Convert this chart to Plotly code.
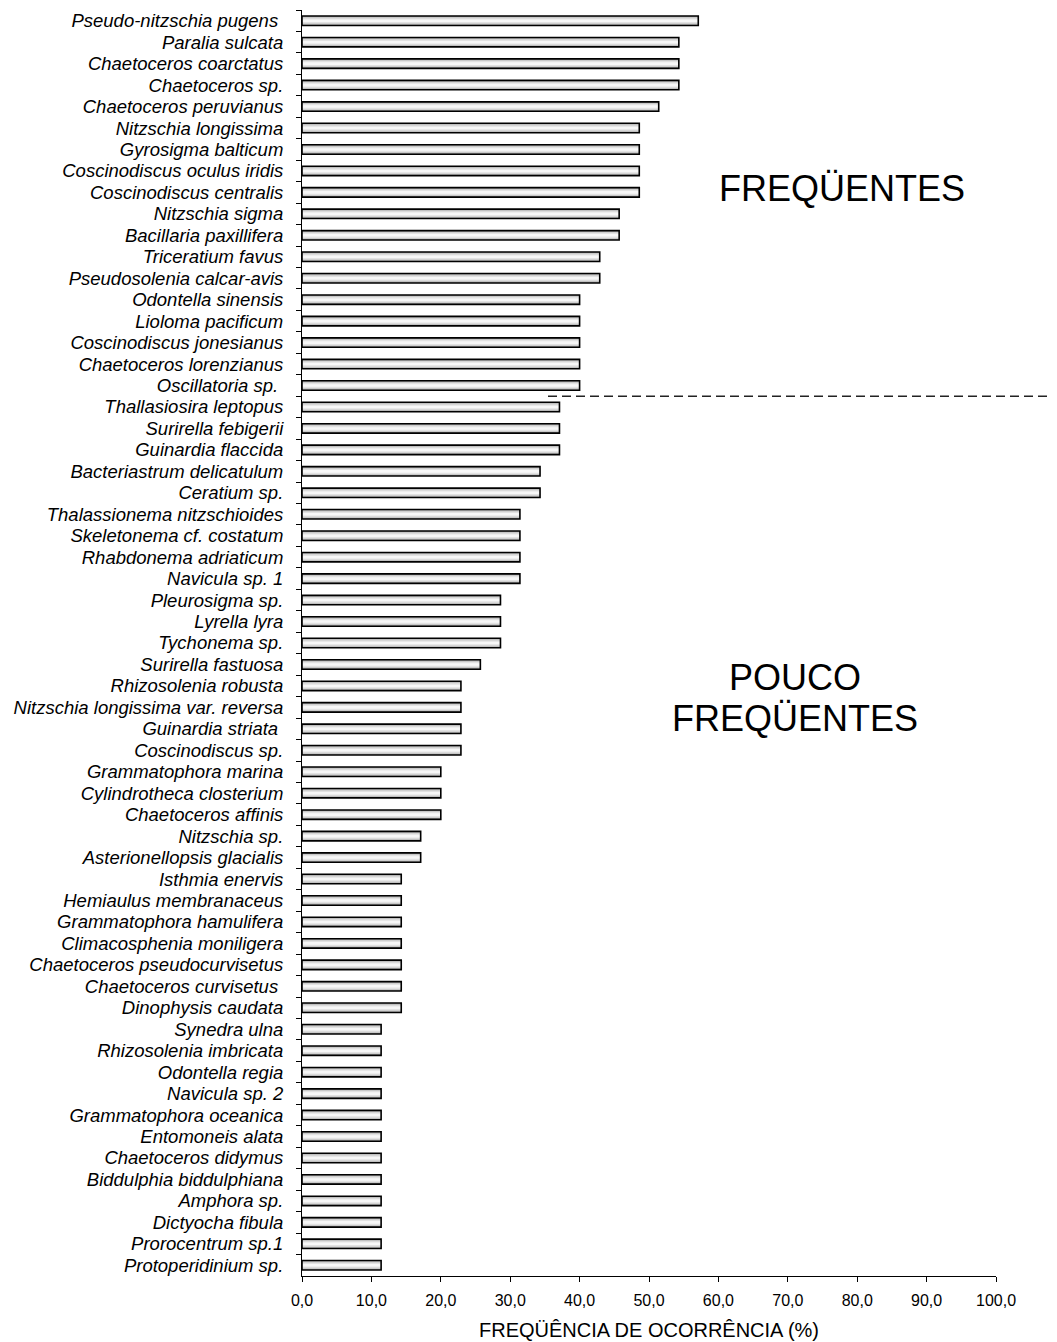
import plotly.graph_objects as go

species = [
    "Pseudo-nitzschia pugens\u00a0", "Paralia sulcata", "Chaetoceros coarctatus", "Chaetoceros sp.",
    "Chaetoceros peruvianus", "Nitzschia longissima", "Gyrosigma balticum", "Coscinodiscus oculus iridis",
    "Coscinodiscus centralis", "Nitzschia sigma", "Bacillaria paxillifera", "Triceratium favus",
    "Pseudosolenia calcar-avis", "Odontella sinensis", "Lioloma pacificum", "Coscinodiscus jonesianus",
    "Chaetoceros lorenzianus", "Oscillatoria sp.\u00a0", "Thallasiosira leptopus", "Surirella febigerii",
    "Guinardia flaccida", "Bacteriastrum delicatulum", "Ceratium sp.", "Thalassionema nitzschioides",
    "Skeletonema cf. costatum", "Rhabdonema adriaticum", "Navicula sp. 1", "Pleurosigma sp.",
    "Lyrella lyra", "Tychonema sp.", "Surirella fastuosa", "Rhizosolenia robusta",
    "Nitzschia longissima var. reversa", "Guinardia striata\u00a0", "Coscinodiscus sp.", "Grammatophora marina",
    "Cylindrotheca closterium", "Chaetoceros affinis", "Nitzschia sp.", "Asterionellopsis glacialis",
    "Isthmia enervis", "Hemiaulus membranaceus", "Grammatophora hamulifera", "Climacosphenia moniligera",
    "Chaetoceros pseudocurvisetus", "Chaetoceros curvisetus\u00a0", "Dinophysis caudata", "Synedra ulna",
    "Rhizosolenia imbricata", "Odontella regia", "Navicula sp. 2", "Grammatophora oceanica",
    "Entomoneis alata", "Chaetoceros didymus", "Biddulphia biddulphiana", "Amphora sp.",
    "Dictyocha fibula", "Prorocentrum sp.1", "Protoperidinium sp.",
]

frequency = [
    57.1, 54.3, 54.3, 54.3, 51.4, 48.6, 48.6, 48.6, 48.6, 45.7, 45.7, 42.9, 42.9,
    40.0, 40.0, 40.0, 40.0, 40.0, 37.1, 37.1, 37.1, 34.3, 34.3, 31.4, 31.4, 31.4, 31.4,
    28.6, 28.6, 28.6, 25.7, 22.9, 22.9, 22.9, 22.9, 20.0, 20.0, 20.0, 17.1, 17.1,
    14.3, 14.3, 14.3, 14.3, 14.3, 14.3, 14.3, 11.4, 11.4, 11.4, 11.4, 11.4, 11.4,
    11.4, 11.4, 11.4, 11.4, 11.4, 11.4,
]

x_ticks = [0, 10, 20, 30, 40, 50, 60, 70, 80, 90, 100]

FONT = "Liberation Sans, Arial, sans-serif"

fig = go.Figure()

# gradient-like fill using stacked overlay layers
layers = [(0.44, "#a9a9a9"), (0.34, "#c8c8c8"), (0.24, "#e2e2e2"), (0.12, "#f7f7f7")]
for w, c in layers:
    fig.add_trace(go.Bar(
        x=frequency, y=species, orientation="h", width=w,
        marker=dict(color=c, line=dict(width=0)), showlegend=False, hoverinfo="skip",
    ))
# outline
fig.add_trace(go.Bar(
    x=frequency, y=species, orientation="h", width=0.44,
    marker=dict(color="rgba(0,0,0,0)", line=dict(color="black", width=1.6)),
    showlegend=False,
))

fig.update_layout(
    width=1049, height=1334,
    margin=dict(l=294, r=61, t=2, b=66, autoexpand=False),
    barmode="overlay",
    plot_bgcolor="white", paper_bgcolor="white",
    separators=",.",
    font=dict(family=FONT, color="black"),
    xaxis=dict(
        range=[0, 100], tickvals=x_ticks, tickformat=".1f",
        showline=True, linecolor="black", linewidth=1,
        ticks="outside", ticklen=5, tickcolor="black",
        showgrid=False, zeroline=False,
        tickfont=dict(size=16, family=FONT),
        ticklabelstandoff=5,
        title=dict(text="FREQÜÊNCIA DE OCORRÊNCIA (%)", font=dict(size=20, family=FONT), standoff=14),
    ),
    yaxis=dict(
        categoryorder="array", categoryarray=species, autorange="reversed",
        tickmode="linear", tick0=0, dtick=1,
        showline=True, linecolor="black", linewidth=1,
        ticks="outside", ticklen=5, tickcolor="black", tickson="boundaries",
        showgrid=False, zeroline=False,
        tickfont=dict(size=18.5, family=FONT, style="italic"),
        ticklabelstandoff=14,
    ),
    shapes=[dict(
        type="line", xref="paper", yref="y",
        x0=(548 - 302) / 694, x1=1.09, y0=17.5, y1=17.5,
        line=dict(color="#222", width=1.5, dash="9px,5px"),
    )],
    annotations=[
        dict(text="FREQÜENTES", xref="paper", yref="paper", x=0.778, y=0.859,
             xanchor="center", yanchor="middle",
             showarrow=False, font=dict(size=36, family=FONT)),
        dict(text="POUCO", xref="paper", yref="paper", x=0.710, y=0.4724,
             xanchor="center", yanchor="middle",
             showarrow=False, font=dict(size=36, family=FONT)),
        dict(text="FREQÜENTES", xref="paper", yref="paper", x=0.710, y=0.440,
             xanchor="center", yanchor="middle",
             showarrow=False, font=dict(size=36, family=FONT)),
    ],
)

fig.write_html("out.html")
